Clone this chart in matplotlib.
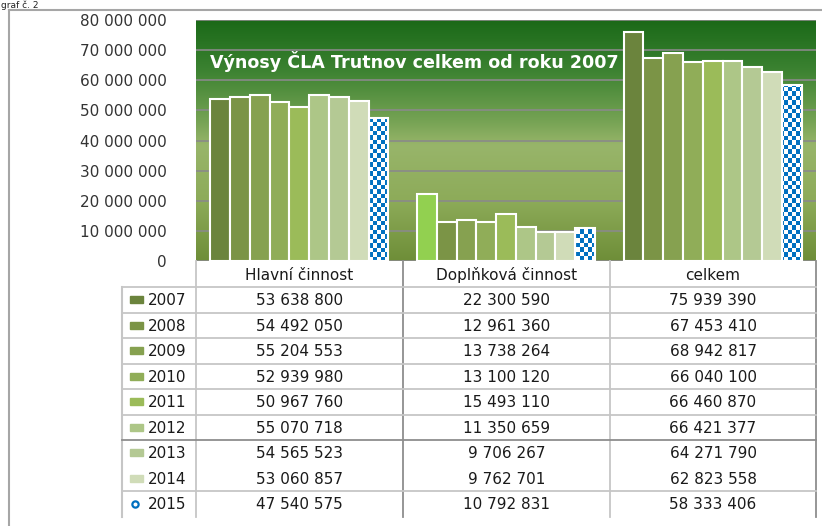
import numpy as np
import matplotlib
matplotlib.use("Agg")
import matplotlib.pyplot as plt
from matplotlib.patches import Rectangle
from matplotlib.colors import to_rgb

# ---------------- data ----------------
categories = ["Hlavní činnost", "Doplňková činnost", "celkem"]
years = ["2007", "2008", "2009", "2010", "2011", "2012", "2013", "2014", "2015"]
hlavni = [53638800, 54492050, 55204553, 52939980, 50967760, 55070718, 54565523, 53060857, 47540575]
doplnkova = [22300590, 12961360, 13738264, 13100120, 15493110, 11350659, 9706267, 9762701, 10792831]
celkem = [75939390, 67453410, 68942817, 66040100, 66460870, 66421377, 64271790, 62823558, 58333406]
yticks = [0, 10000000, 20000000, 30000000, 40000000, 50000000, 60000000, 70000000, 80000000]
title = "Výnosy ČLA Trutnov celkem od roku 2007"
caption = "graf č. 2"

series = [[hlavni[i], doplnkova[i], celkem[i]] for i in range(len(years))]

colors = ["#6b843d", "#7b9446", "#86a150", "#90ad58", "#9bbb59",
          "#adc687", "#b4c994", "#d0dcb8", None]
override = {(0, 1): "#92d050"}  # 2007 bar in "Doplňková činnost"
checker_blue = "#0070c0"

W, H = 822, 526
fig = plt.figure(figsize=(W / 100, H / 100), dpi=100)
fig.patch.set_facecolor("white")

# plot area in pixel coordinates
L, R, T, B = 196, 816, 20, 261
ax = fig.add_axes([L / W, 1 - B / H, (R - L) / W, (B - T) / H])
ymax = 80000000
ax.set_xlim(-0.5, 2.5)
ax.set_ylim(0, ymax)
for s in ax.spines.values():
    s.set_visible(False)

# gradient background
stops = [(0.0, "#1b6918"), (0.2, "#3a8130"), (0.42, "#76a354"),
         (0.52, "#98b56a"), (0.75, "#8dab59"), (1.0, "#6e8e38")]
n = 256
pos = np.linspace(0, 1, n)
grad = np.zeros((n, 1, 3))
for c in range(3):
    grad[:, 0, c] = np.interp(pos, [p for p, _ in stops], [to_rgb(col)[c] for _, col in stops])
ax.imshow(grad, extent=[-0.5, 2.5, 0, ymax], aspect="auto", zorder=0, origin="upper")

ax.set_yticks(yticks)
ax.set_yticklabels([f"{v:,}".replace(",", " ") for v in yticks])
ax.tick_params(axis="y", length=0, pad=21, labelsize=11, labelcolor="#333333")
ax.set_xticks([])
ax.yaxis.grid(True, color="#8a8a8a", lw=1.2)
ax.set_axisbelow(True)

# bars
nser = len(years)
bw = 0.861 / nser
x = np.arange(len(categories))

# checker image
cols_c, rows_c = 155, 54
ii, jj = np.meshgrid(np.arange(cols_c), np.arange(rows_c))
chk = ((ii + jj) % 2).astype(float)
chk_rgb = np.where(chk[..., None] == 1, np.array(to_rgb(checker_blue)), np.array([1.0, 1.0, 1.0]))

for i in range(nser):
    xs = x + (i - (nser - 1) / 2) * bw
    if colors[i] is None:
        bars = ax.bar(xs, series[i], bw, color="white", edgecolor="none", zorder=2)
        for b in bars:
            im = ax.imshow(chk_rgb, extent=[-0.5, 2.5, 0, ymax], aspect="auto",
                           interpolation="nearest", zorder=2.5)
            im.set_clip_path(b)
        ax.bar(xs, series[i], bw, color="none", edgecolor="white", lw=1.5, zorder=3)
    else:
        fc = [override.get((i, k), colors[i]) for k in range(len(categories))]
        ax.bar(xs, series[i], bw, color=fc, edgecolor="white", lw=1.5, zorder=3)

# ---------------- overlay (title, table, frame) ----------------
ov = fig.add_axes([0, 0, 1, 1], facecolor="none")
ov.set_xlim(0, W)
ov.set_ylim(H, 0)
ov.axis("off")

ov.text(210, 62, title, color="white", fontsize=12.6, fontweight="bold",
        ha="left", va="center")
ov.text(1, 0.5, caption, fontsize=6.5, color="#222222", ha="left", va="top")

# outer frame
ov.plot([9, W], [10, 10], color="#a6a6a6", lw=1.5)
ov.plot([9, 9], [10, H], color="#a6a6a6", lw=1.5)

# table
col_x = [196, 403, 610, 816]
head_top, head_bot = 261, 287
row_h = 25.5
tab_bot = 517
light = "#c6c6c6"
dark = "#8e8e8e"
for k, cx in enumerate(col_x):
    ov.plot([cx, cx], [head_top, tab_bot], color=(dark if k in (1, 3) else light), lw=1.3)
ov.plot([122, 122], [head_bot, tab_bot], color=light, lw=1.5)
ov.plot([122, 816], [head_bot, head_bot], color=light, lw=1.3)
for r in range(1, nser):
    yline = head_bot + r * row_h
    if r == 7:
        continue
    ov.plot([122, 816], [yline, yline], color=(dark if r == 6 else light), lw=1.3)

for k, cat in enumerate(categories):
    ov.text((col_x[k] + col_x[k + 1]) / 2, (head_top + head_bot) / 2 + 1, cat,
            fontsize=11, ha="center", va="center", color="#1a1a1a")

for i in range(nser):
    yc = head_bot + (i + 0.5) * row_h
    if colors[i] is None:
        ov.plot([135], [yc], marker="o", ms=4.5, mfc="white", mec=checker_blue, mew=1.6)
    else:
        ov.add_patch(Rectangle((130, yc - 3.5), 13, 7, color=colors[i]))
    ov.text(148, yc + 1, years[i], fontsize=11, ha="left", va="center", color="#1a1a1a")
    for k in range(len(categories)):
        ov.text((col_x[k] + col_x[k + 1]) / 2, yc + 1,
                f"{series[i][k]:,}".replace(",", " "),
                fontsize=11, ha="center", va="center", color="#1a1a1a")

fig.savefig("out.png", dpi=100)
